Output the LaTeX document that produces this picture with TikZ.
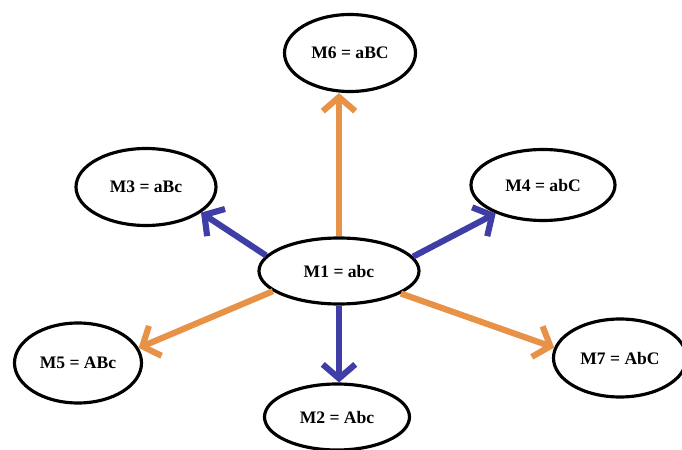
\documentclass[tikz,border=0pt]{standalone}
\usepackage{fontspec}
\setmainfont{Liberation Serif}
\usetikzlibrary{positioning, arrows.meta, shapes, shapes.geometric}

\definecolor{barBlue}{RGB}{62,62,166}
\definecolor{barOrange}{RGB}{232,146,72}

\begin{document}
\begin{tikzpicture}[
        model/.style={draw, ellipse, line width=1.8pt, inner sep=0pt, font=\fontsize{10}{12}\selectfont\bfseries},
        link/.style={line width=3.5pt, -{Straight Barb[length=2.8mm, width=6.5mm]}},
    ]
        \useasboundingbox (0,0) rectangle (13.64,9);
        \node[model, minimum width=3.2cm, minimum height=1.32cm] (m1) at (6.78,3.58) {M1 = abc};
        \node[model, minimum width=2.62cm, minimum height=1.54cm] (m6) at (7.00,7.94) {M6 = aBC};
        \node[model, minimum width=2.8cm, minimum height=1.54cm] (m3) at (2.92,5.26) {M3 = aBc};
        \node[model, minimum width=2.88cm, minimum height=1.42cm] (m4) at (10.86,5.30) {M4 = abC};
        \node[model, minimum width=2.54cm, minimum height=1.6cm] (m5) at (1.56,1.74) {M5 = ABc};
        \node[model, minimum width=2.66cm, minimum height=1.56cm] (m7) at (12.40,1.84) {M7 = AbC};
        \node[model, minimum width=2.9cm, minimum height=1.32cm] (m2) at (6.74,0.66) {M2 = Abc};

        \draw[link, barOrange] (m1.north) -- (m1.north |- m6.south);
        \draw[link, barBlue] (m1.168) -- (m3.-25);
        \draw[link, barBlue] (m1.11) -- (m4.211);
        \draw[link, barBlue] (m1.south) -- (m1.south |- m2.north);
        \draw[link, barOrange] (m1.197) -- (m5.14);
        \draw[link, barOrange] (m1.-20) -- (m7.171);
\end{tikzpicture}
\end{document}
